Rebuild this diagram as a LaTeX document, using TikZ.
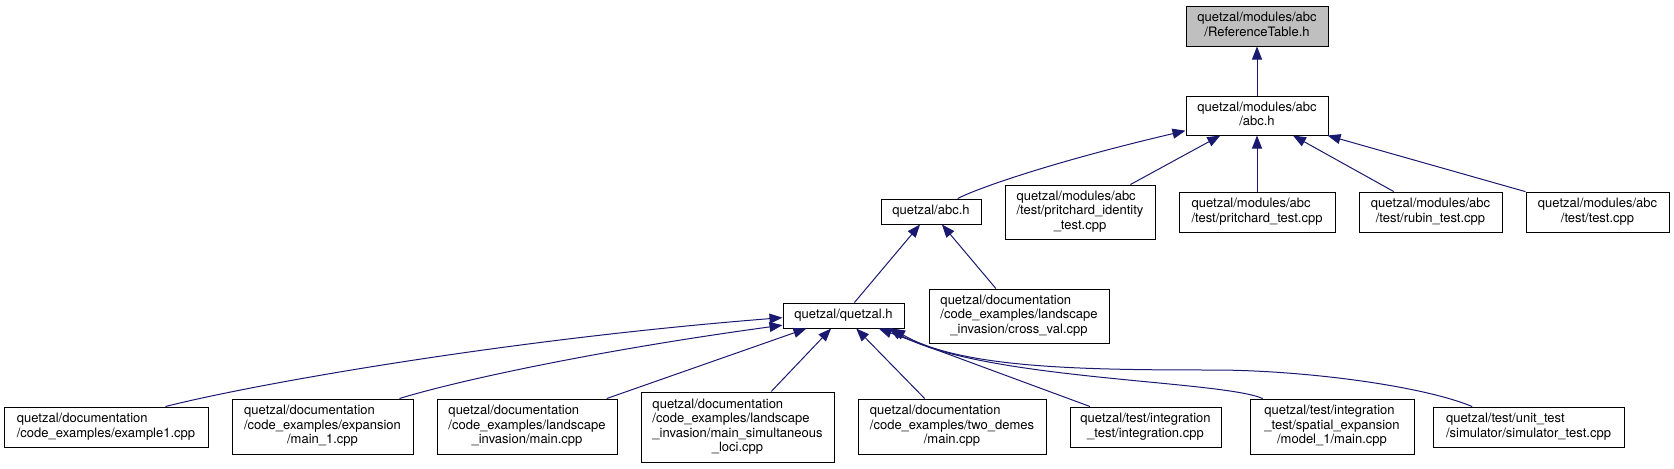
\documentclass[tikz,border=0pt]{standalone}
\usepackage{fontspec}
\setmainfont{TeX Gyre Heros}
\usepackage{tikz}
\usetikzlibrary{arrows.meta}
\definecolor{midblue}{HTML}{191970}
\definecolor{rootgray}{HTML}{BFBFBF}
\newcommand{\doxfont}{\fontsize{9.75}{10.9}\selectfont}
\newcommand{\flbl}[2]{\begin{tabular}{@{}l@{}}#1\\\multicolumn{1}{@{}c@{}}{#2}\end{tabular}}

\begin{document}
\begin{tikzpicture}[x=0.75pt, y=-0.75pt,
  src/.style={draw, line width=0.75pt, inner sep=0pt, font=\doxfont},
  root/.style={src, fill=rootgray},
  sz/.style 2 args={minimum width=#1*0.75pt, minimum height=#2*0.75pt},
  inc/.style={draw=midblue, line width=0.75pt, -{Triangle[length=9.75pt, width=7.5pt]}}
]
\useasboundingbox (0,0) rectangle (1674,468);

% Root header
\node[root, sz={142}{40}] (reftable) at (1257,26) {\flbl{quetzal/modules/abc}{/ReferenceTable.h}};

% Second level
\node[src, sz={142}{39}] (modabc) at (1257,115.5) {\flbl{quetzal/modules/abc}{/abc.h}};

% Third level
\node[src, sz={100}{25}]  (qabc)      at (931,211.5)  {quetzal/abc.h};
\node[src, sz={150}{54}]  (pidentity) at (1080,212)   {\flbl{quetzal/modules/abc\\/test/pritchard\_identity}{\_test.cpp}};
\node[src, sz={156}{40}]  (ptest)     at (1257,212)   {\flbl{quetzal/modules/abc}{/test/pritchard\_test.cpp}};
\node[src, sz={143}{40}]  (rubin)     at (1430.5,212) {\flbl{quetzal/modules/abc}{/test/rubin\_test.cpp}};
\node[src, sz={143}{40}]  (abctest)   at (1597.5,212) {\flbl{quetzal/modules/abc}{/test/test.cpp}};

% Fourth level
\node[src, sz={121}{25}]  (qquetzal)  at (843.5,315.5) {quetzal/quetzal.h};
\node[src, sz={180}{54}]  (crossval)  at (1019,316)    {\flbl{quetzal/documentation\\/code\_examples/landscape}{\_invasion/cross\_val.cpp}};

% Bottom row
\node[src, sz={204}{40}]  (ex1)       at (106,427)     {\flbl{quetzal/documentation}{/code\_examples/example1.cpp}};
\node[src, sz={181}{55}]  (expansion) at (322.5,426.5) {\flbl{quetzal/documentation\\/code\_examples/expansion}{/main\_1.cpp}};
\node[src, sz={180}{55}]  (lsmain)    at (527,426.5)   {\flbl{quetzal/documentation\\/code\_examples/landscape}{\_invasion/main.cpp}};
\node[src, sz={193}{70}]  (simul)     at (737.5,427)   {\flbl{quetzal/documentation\\/code\_examples/landscape\\\_invasion/main\_simultaneous}{\_loci.cpp}};
\node[src, sz={188}{55}]  (twodemes)  at (952,426.5)   {\flbl{quetzal/documentation\\/code\_examples/two\_demes}{/main.cpp}};
\node[src, sz={151}{40}]  (integ)     at (1145.5,427)  {\flbl{quetzal/test/integration}{\_test/integration.cpp}};
\node[src, sz={164}{55}]  (spatial)   at (1332,426.5)  {\flbl{quetzal/test/integration\\\_test/spatial\_expansion}{/model\_1/main.cpp}};
\node[src, sz={191}{40}]  (simtest)   at (1528.5,427)  {\flbl{quetzal/test/unit\_test}{/simulator/simulator\_test.cpp}};

% Includes of abc headers
\draw[inc] (modabc) -- (reftable);
\draw[inc] (qabc.26) .. controls (980,187) and (1060,160) .. (modabc.192);
\foreach \f in {pidentity,ptest,rubin,abctest}
  \draw[inc] (\f) -- (modabc);
\foreach \f in {qquetzal,crossval}
  \draw[inc] (\f) -- (qabc);

% Includes of quetzal.h
\draw[inc] (ex1.19) .. controls (250,385) and (500,340) .. (qquetzal.182);
\draw[inc] (expansion.20) .. controls (460,380) and (600,350) .. (qquetzal.189);
\foreach \f in {lsmain,simul,twodemes,integ}
  \draw[inc] (\f) -- (qquetzal);
\draw[inc] (spatial.158) .. controls (1220,380) and (980,380) .. (qquetzal.344);
\draw[inc] (simtest.160) .. controls (1420,385) and (1300,370) .. (1213,370)
  .. controls (1080,370) and (960,368) .. (qquetzal.345);

\end{tikzpicture}
\end{document}
